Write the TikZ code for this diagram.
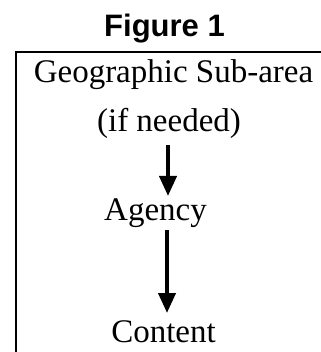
\documentclass[tikz,border=0pt]{standalone}
\usepackage{fontspec}
\setmainfont{Liberation Serif}
\newfontfamily\titlefont{Liberation Sans}
\usetikzlibrary{arrows.meta}
\tikzset{
  txt/.style={anchor=base, inner sep=0pt, font=\fontsize{33}{33}\selectfont},
  ttl/.style={anchor=base, inner sep=0pt, font=\titlefont\bfseries\fontsize{31}{31}\selectfont},
  frame/.style={line width=1.6pt},
  flow/.style={line width=4pt, -{Triangle[width=17pt,length=20pt]}}
}
\begin{document}
\begin{tikzpicture}[x=1pt,y=-1pt]
\useasboundingbox (0,0) rectangle (320,352);
\draw[frame] (16,360) -- (16,52) -- (330,52);
\node[ttl] (title) at (164.5,36.5) {Figure 1};
\node[txt] (geo) at (173.5,83) {Geographic Sub-area};
\node[txt] (ifn) at (169,132) {(if needed)};
\node[txt] (agency) at (155.5,220) {Agency};
\node[txt] (content) at (163.5,342.5) {Content};
\coordinate (a1s) at (168,145);
\coordinate (a1e) at (168,196);
\coordinate (a2s) at (167,230);
\coordinate (a2e) at (167,313);
\draw[flow] (a1s) -- (a1e);
\draw[flow] (a2s) -- (a2e);
\end{tikzpicture}
\end{document}
